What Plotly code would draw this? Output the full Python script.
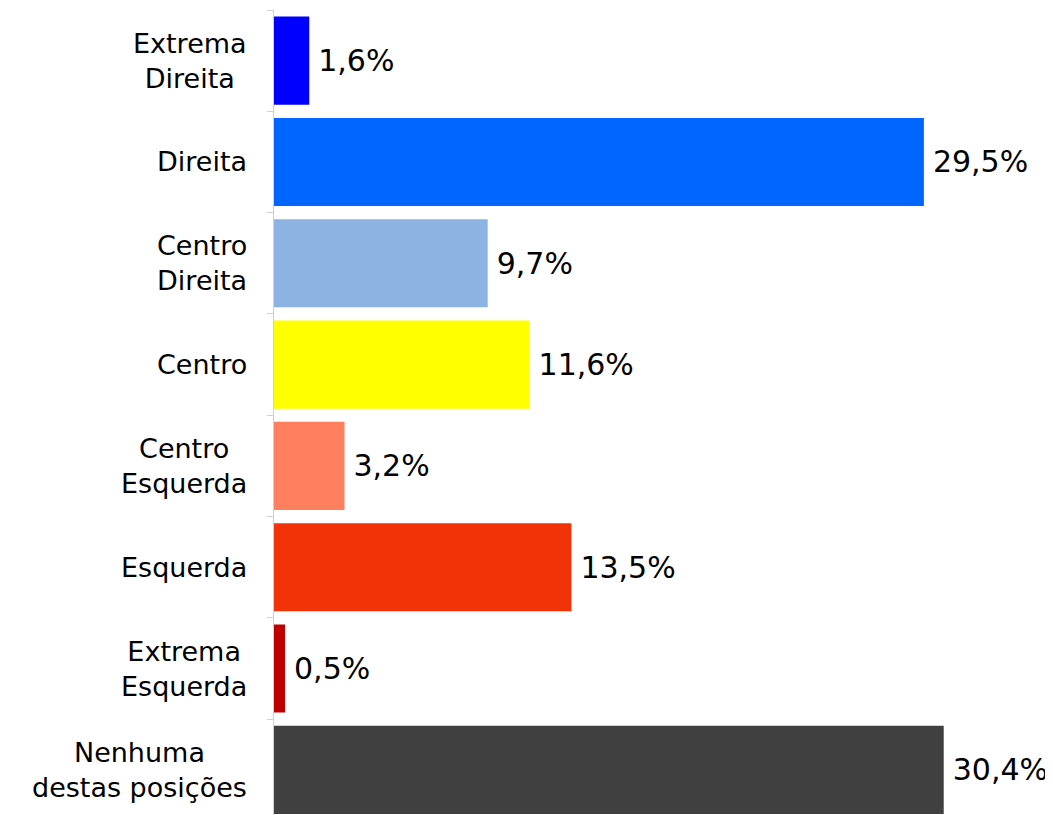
import plotly.graph_objects as go

categories = ["Extrema Direita", "Direita", "Centro Direita", "Centro",
              "Centro Esquerda", "Esquerda", "Extrema Esquerda", "Nenhuma destas posições"]
label_lines = ["Extrema<br>Direita", "Direita", "Centro<br>Direita", "Centro",
               "Centro<br>Esquerda", "Esquerda", "Extrema<br>Esquerda", "Nenhuma<br>destas posições"]
values = [1.6, 29.5, 9.7, 11.6, 3.2, 13.5, 0.5, 30.4]
value_labels = ["1,6%", "29,5%", "9,7%", "11,6%", "3,2%", "13,5%", "0,5%", "30,4%"]
colors = ["#0000FF", "#0066FF", "#8DB3E2", "#FFFF00", "#FF7F5F", "#F23207", "#C00000", "#404040"]

FONT = "DejaVu Sans"

fig = go.Figure(go.Bar(
    x=values, y=categories, orientation="h",
    marker=dict(color=colors, line=dict(width=0)),
    text=value_labels, textposition="outside",
    texttemplate="\u202f%{text}",
    textfont=dict(family=FONT, size=30, color="#000000"),
    cliponaxis=False,
))

for cat, lab in zip(categories, label_lines):
    fig.add_annotation(x=0, xref="paper", y=cat, yref="y", text=lab,
                       xanchor="right", align="center", showarrow=False,
                       xshift=-25, font=dict(family=FONT, size=27, color="#000000"))

fig.update_layout(
    width=1045, height=807,
    margin=dict(l=266, r=0, t=2, b=0),
    paper_bgcolor="white", plot_bgcolor="white",
    bargap=0.13, showlegend=False,
    xaxis=dict(range=[0, 35.36], visible=False),
    yaxis=dict(categoryorder="array", categoryarray=categories,
               range=[7.446, -0.5], showticklabels=False,
               ticks="outside", tickson="boundaries", ticklen=6,
               tickcolor="#d0d0d0", showline=True, linecolor="#d0d0d0",
               linewidth=1, showgrid=False, zeroline=False),
)

fig.write_html("out.html")
